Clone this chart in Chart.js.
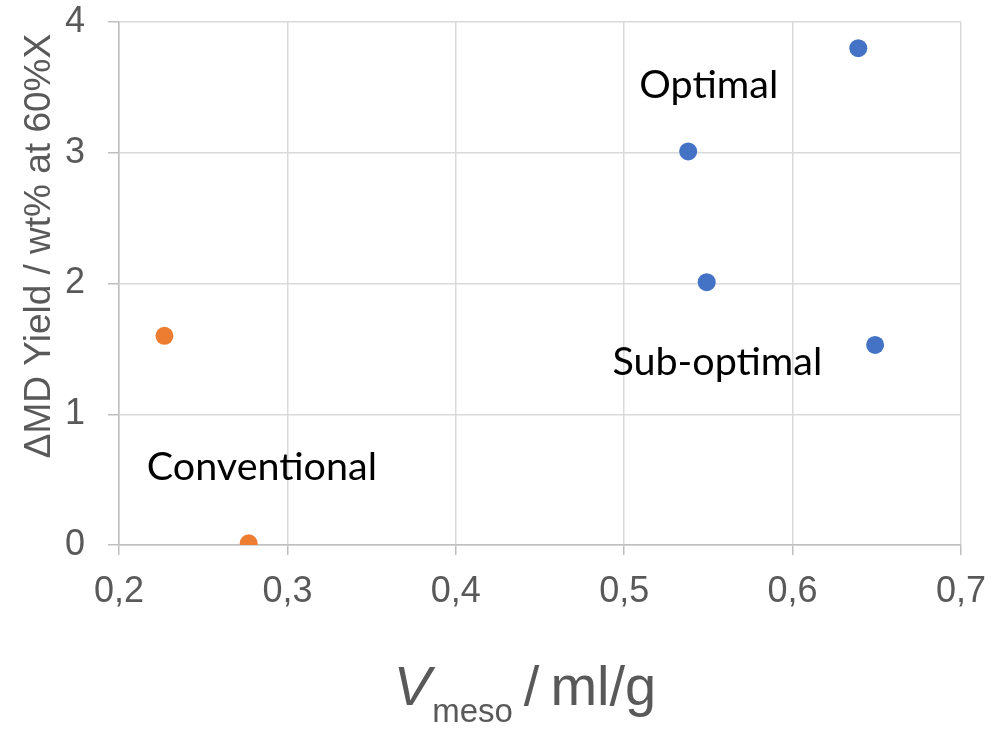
<!DOCTYPE html>
<html>
<head>
<meta charset="utf-8">
<script src="https://cdn.jsdelivr.net/npm/chart.js@4.4.1/dist/chart.umd.min.js"></script>
<style>
  html, body { margin: 0; padding: 0; background: #fff; }
  #wrap { width: 992px; height: 729px; }
</style>
</head>
<body>
<div id="wrap"><canvas id="myChart" width="992" height="729"></canvas></div>
<script>
// mesopore volume (ml/g) vs middle distillate yield gain
const newVmeso = [0.639, 0.538, 0.549, 0.649];
const newYield = [3.80, 3.01, 2.01, 1.53];
const convVmeso = [0.227, 0.277];
const convYield = [1.60, 0.013];

const xTicks = [0.2, 0.3, 0.4, 0.5, 0.6, 0.7];
const yTicks = [0, 1, 2, 3, 4];

// group labels, placed in data units (left edge, baseline)
const groupNames = ["Optimal", "Sub-optimal", "Conventional"];
const groupX = [0.509, 0.493, 0.2165];
const groupY = [3.42, 1.30, 0.50];

const blue = "#4472C4";
const orange = "#ED7D31";
const tickGrey = "#595959";
const sans = "'Liberation Sans', Arial";

function toPoints(xs, ys) {
  return xs.map(function(x, i) {
    return { x: x, y: ys[i] };
  });
}

// draws axis titles and group labels on top of the chart
const labelsPlugin = {
  id: "labels",
  afterDraw: function(chart) {
    const ctx = chart.ctx;
    const xs = chart.scales.x;
    const ys = chart.scales.y;
    ctx.save();

    // group labels
    ctx.fillStyle = "#000";
    ctx.font = "39.5px Lato";
    ctx.textAlign = "left";
    ctx.textBaseline = "alphabetic";
    groupNames.forEach(function(name, i) {
      ctx.fillText(name, xs.getPixelForValue(groupX[i]), ys.getPixelForValue(groupY[i]));
    });

    // y title
    ctx.fillStyle = tickGrey;
    ctx.font = "37px " + sans;
    ctx.translate(50, 246);
    ctx.rotate(-Math.PI / 2);
    ctx.textAlign = "center";
    ctx.fillText("\u0394MD Yield / wt% at 60%X", 0, 0);
    ctx.setTransform(1, 0, 0, 1, 0, 0);

    // x title: italic V with subscript "meso", then "/ ml/g"
    const parts = [
      { text: "V", font: "italic 56px " + sans, dy: 0, gap: 1 },
      { text: "meso", font: "33px " + sans, dy: 17, gap: 11 },
      { text: "/", font: "56px " + sans, dy: 0, gap: 11 },
      { text: "ml/g", font: "56px " + sans, dy: 0, gap: 0 }
    ];
    ctx.textAlign = "left";
    let total = 0;
    parts.forEach(function(p) {
      ctx.font = p.font;
      p.w = ctx.measureText(p.text).width;
      total += p.w + p.gap;
    });
    let px = 525 - total / 2;
    const base = 705;
    parts.forEach(function(p) {
      ctx.font = p.font;
      ctx.fillText(p.text, px, base + p.dy);
      px += p.w + p.gap;
    });

    ctx.restore();
  }
};

const ctx = document.getElementById("myChart").getContext("2d");
const chart = new Chart(ctx, {
  type: "scatter",
  data: {
    datasets: [
      {
        label: "new",
        data: toPoints(newVmeso, newYield),
        backgroundColor: blue,
        borderWidth: 0,
        pointRadius: 9
      },
      {
        label: "conventional",
        data: toPoints(convVmeso, convYield),
        backgroundColor: orange,
        borderWidth: 0,
        pointRadius: 9
      }
    ]
  },
  options: {
    responsive: false,
    animation: false,
    layout: { padding: { top: 22, right: 31, left: 0, bottom: 0 } },
    plugins: {
      legend: { display: false },
      tooltip: { enabled: false }
    },
    scales: {
      x: {
        type: "linear",
        min: 0.2,
        max: 0.7,
        afterBuildTicks: function(axis) {
          axis.ticks = xTicks.map(function(v) { return { value: v }; });
        },
        afterFit: function(axis) {
          axis.height = 184;
          axis.paddingLeft = 0;
          axis.paddingRight = 0;
        },
        grid: { color: "#D9D9D9", lineWidth: 1.5, tickLength: 10, tickColor: "#BFBFBF" },
        border: { color: "#BFBFBF", width: 1.5 },
        ticks: {
          color: tickGrey,
          font: { family: sans, size: 36 },
          padding: 15,
          maxRotation: 0,
          callback: function(v) { return Number(v).toFixed(1).replace(".", ","); }
        }
      },
      y: {
        type: "linear",
        min: 0,
        max: 4,
        afterBuildTicks: function(axis) {
          axis.ticks = yTicks.map(function(v) { return { value: v }; });
        },
        afterFit: function(axis) {
          axis.width = 119;
          axis.paddingTop = 0;
          axis.paddingBottom = 0;
        },
        grid: { color: "#D9D9D9", lineWidth: 1.5, tickLength: 11, tickColor: "#BFBFBF" },
        border: { color: "#BFBFBF", width: 1.5 },
        ticks: {
          color: tickGrey,
          font: { family: sans, size: 36 },
          padding: 23,
          callback: function(v) { return String(v); }
        }
      }
    }
  },
  plugins: [labelsPlugin]
});
</script>
</body>
</html>
